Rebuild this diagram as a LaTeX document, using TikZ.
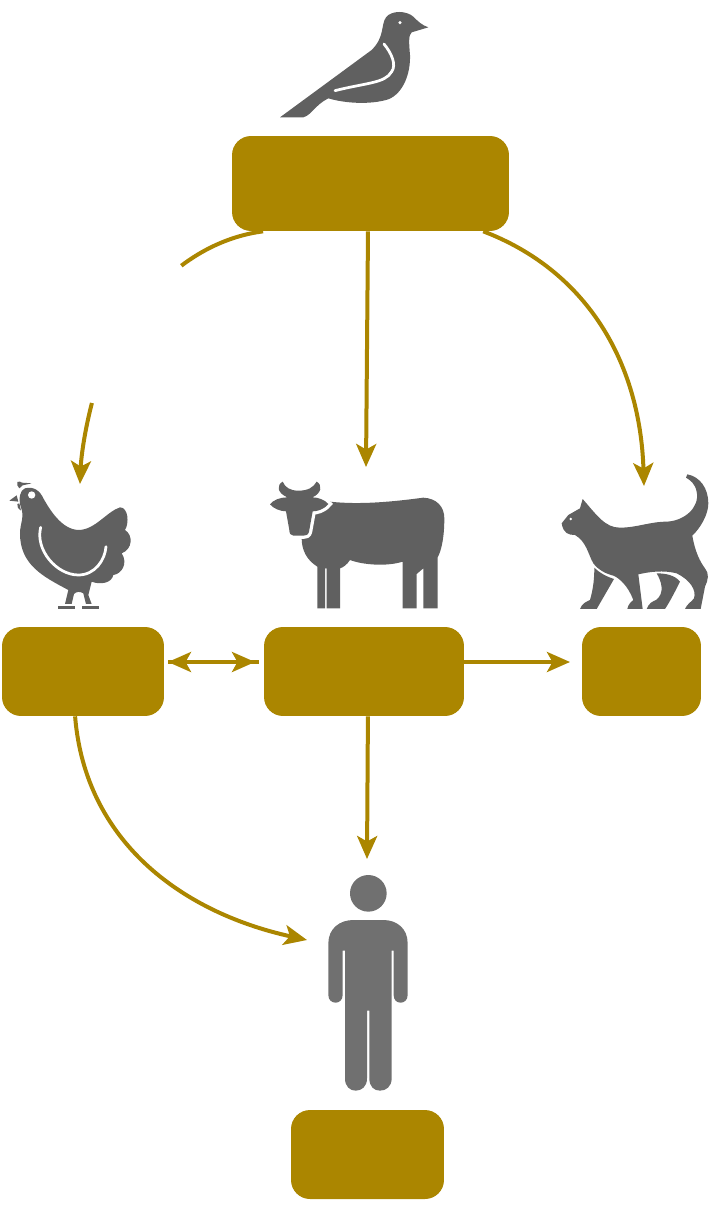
\documentclass[tikz,border=0pt]{standalone}
\usepackage{xcolor}
\usetikzlibrary{arrows.meta}
\definecolor{barngold}{RGB}{171,134,0}
\definecolor{animalgrey}{RGB}{96,96,96}
\definecolor{humangrey}{RGB}{112,112,112}
\tikzset{
	>={Stealth[length=4.6mm,width=4mm,inset=1.1mm]},
	barn/.style={
			draw=none, fill=barngold, inner sep=0pt, rounded corners=0.38cm
		},
	flowplain/.style={draw=barngold, line width=0.8mm},
	flow/.style={flowplain, ->},
	animal/.style={fill=animalgrey, draw=none},
	slit/.style={draw=white, line width=0.55mm, line cap=round},
	traced/.style={x=0.00667cm, y=-0.00667cm}
}

\begin{document}
\begin{tikzpicture}[x=0.02cm, y=-0.02cm]
	\useasboundingbox (0, 0) rectangle (710, 1206);

	% boxes
	\node [barn, minimum width=5.54cm, minimum height=1.9cm] (pigeonbox) at (370.5, 183.5) {};
	\node [barn, minimum width=3.24cm, minimum height=1.78cm] (henbox) at (83, 671.5) {};
	\node [barn, minimum width=4.0cm, minimum height=1.78cm] (cowbox) at (364, 671.5) {};
	\node [barn, minimum width=2.38cm, minimum height=1.78cm] (catbox) at (641.5, 671.5) {};
	\node [barn, minimum width=3.06cm, minimum height=1.78cm] (humanbox) at (367.5, 1154.5) {};

	% free ends
	\coordinate (breakout) at (181.3, 265.7);
	\coordinate (breakin) at (91.9, 403);
	\coordinate (henin) at (80, 484);
	\coordinate (cowin) at (366, 467);
	\coordinate (catin) at (644, 486);
	\coordinate (catside) at (570, 662);
	\coordinate (henside) at (168, 662);
	\coordinate (cowside) at (259, 662);
	\coordinate (cowtip) at (255, 662);
	\coordinate (humanin) at (367, 859);
	\coordinate (humanside) at (307, 940);

	% connectors
	\draw [flowplain] (pigeonbox.204) .. controls (228, 236) and (200.8, 251) .. (breakout);
	\draw [flow] (breakin) .. controls (85, 429.7) and (81.2, 455.5) .. (henin);
	\draw [flow] (pigeonbox.267) -- (cowin);
	\draw [flow] (pigeonbox.337) .. controls (585, 270) and (640, 360) .. (catin);
	\draw [flowplain, <-] (henside) -- (cowside);
	\draw [flow] (henside) -- (cowtip);
	\draw [flow] (cowbox.east |- catside) -- (catside);
	\draw [flow] (cowbox.275) -- (humanin);
	\draw [flow] (henbox.260) .. controls (85, 840) and (180, 912) .. (humanside);

	% pigeon
	\begin{scope}[shift={(260, 0)}, traced]
		\fill [animal] (505, 82) .. controls (485, 75) and (475, 65) .. (460, 50)
			.. controls (440, 32) and (395, 30) .. (378, 52)
			.. controls (362, 75) and (375, 110) .. (335, 150)
			-- (60, 352) -- (130, 352) .. controls (155, 345) and (165, 315) .. (205, 295)
			.. controls (255, 310) and (330, 315) .. (385, 298)
			.. controls (430, 280) and (452, 220) .. (450, 165)
			.. controls (447, 130) and (445, 105) .. (455, 97) -- cycle;
		\fill [white] (420, 68) circle (5);
		\draw [slit] (372, 132) .. controls (395, 160) and (410, 195) .. (395, 215)
			.. controls (375, 250) and (320, 248) .. (225, 272);
	\end{scope}

	% hen
	\begin{scope}[shift={(0, 470)}, traced]
		\fill [animal] (75, 55) .. controls (100, 48) and (120, 62) .. (130, 85)
			.. controls (150, 120) and (185, 178) .. (235, 180)
			.. controls (285, 180) and (320, 125) .. (360, 112)
			.. controls (385, 112) and (388, 160) .. (375, 180)
			.. controls (400, 195) and (398, 238) .. (365, 250)
			.. controls (385, 280) and (365, 312) .. (340, 315)
			.. controls (335, 340) and (300, 345) .. (275, 335)
			-- (265, 375) -- (275, 402) -- (258, 402) -- (250, 370)
			.. controls (240, 364) and (230, 364) .. (222, 372)
			-- (215, 402) -- (195, 402) -- (205, 360)
			.. controls (130, 320) and (60, 285) .. (60, 190)
			.. controls (60, 160) and (75, 140) .. (62, 110)
			.. controls (55, 85) and (60, 60) .. (75, 55);
		\fill [animal] (52, 36) .. controls (58, 32) and (62, 36) .. (66, 38) -- (95, 40) -- (68, 46) -- (58, 55) .. controls (52, 50) and (50, 42) .. (52, 36);
		\fill [animal] (28, 92) -- (50, 76) -- (55, 95) -- cycle;
		\fill [animal] (52, 102) -- (58, 100) -- (63, 122) .. controls (55, 118) and (50, 110) .. (52, 102);
		\fill [animal] (175, 408) rectangle (225, 416);
		\fill [animal] (247, 408) rectangle (297, 416);
		\fill [white] (95, 75) circle (11);
		\draw [slit] (122, 172) .. controls (105, 240) and (170, 315) .. (235, 315)
			.. controls (285, 315) and (315, 270) .. (318, 230);
	\end{scope}

	% cow
	\begin{scope}[shift={(260, 470)}, traced]
		\fill [animal] (210, 95) .. controls (300, 105) and (400, 95) .. (490, 83)
			.. controls (530, 85) and (553, 110) .. (553, 145)
			.. controls (553, 200) and (545, 240) .. (533, 262)
			-- (533, 415) -- (490, 415) -- (490, 295) -- (470, 312) -- (470, 415) -- (428, 415) -- (428, 275)
			.. controls (380, 290) and (310, 285) .. (270, 270)
			.. controls (260, 285) and (250, 292) .. (240, 295)
			-- (240, 415) -- (200, 415) -- (200, 295) -- (195, 295) -- (195, 415) -- (172, 415) -- (172, 290)
			.. controls (140, 270) and (125, 240) .. (125, 205) -- (125, 120) -- cycle;
		\path [animal, preaction={draw=white, line width=1.3mm}] (82, 82)
			.. controls (50, 68) and (50, 45) .. (68, 35)
			.. controls (75, 52) and (90, 62) .. (115, 62)
			.. controls (145, 62) and (160, 52) .. (170, 35)
			.. controls (188, 45) and (185, 70) .. (157, 82)
			.. controls (175, 82) and (195, 90) .. (205, 102)
			.. controls (190, 120) and (170, 124) .. (158, 124)
			-- (147, 185) .. controls (145, 195) and (137, 197) .. (130, 197)
			-- (100, 197) .. controls (92, 197) and (88, 190) .. (88, 180)
			-- (78, 124) .. controls (60, 124) and (40, 115) .. (30, 103)
			.. controls (40, 90) and (60, 82) .. (82, 82);
	\end{scope}

	% cat
	\begin{scope}[shift={(550, 465)}, traced]
		\fill [animal] (35, 175) -- (55, 150) -- (90, 130) -- (98, 102)
			.. controls (140, 150) and (165, 188) .. (210, 188)
			.. controls (260, 188) and (300, 170) .. (350, 170)
			.. controls (400, 168) and (450, 130) .. (440, 80)
			.. controls (435, 55) and (420, 45) .. (408, 38) -- (412, 28)
			.. controls (450, 35) and (475, 70) .. (475, 115)
			.. controls (475, 150) and (450, 190) .. (427, 212)
			.. controls (435, 260) and (450, 290) .. (465, 310)
			.. controls (478, 325) and (475, 345) .. (465, 365)
			-- (452, 432) -- (405, 432) .. controls (410, 418) and (425, 410) .. (432, 400)
			.. controls (440, 375) and (420, 345) .. (380, 325)
			.. controls (340, 315) and (300, 320) .. (265, 328)
			-- (278, 432) -- (232, 432) .. controls (235, 415) and (245, 410) .. (250, 405)
			.. controls (235, 365) and (210, 340) .. (190, 332)
			.. controls (165, 325) and (145, 315) .. (130, 295)
			.. controls (115, 270) and (110, 230) .. (75, 210)
			.. controls (55, 210) and (40, 205) .. (35, 175);
		\fill [animal] (133, 308) .. controls (150, 325) and (170, 335) .. (192, 342)
			-- (140, 432) -- (90, 432) .. controls (95, 415) and (110, 410) .. (120, 405)
			.. controls (130, 370) and (133, 340) .. (133, 308);
		\fill [animal] (320, 325) .. controls (345, 325) and (375, 330) .. (390, 350)
			.. controls (380, 370) and (360, 410) .. (345, 432) -- (290, 432)
			.. controls (295, 415) and (310, 408) .. (318, 405)
			.. controls (345, 385) and (335, 350) .. (320, 325);
		\fill [white] (62, 162) circle (4);
	\end{scope}

	% human
	\begin{scope}[shift={(310, 860)}, traced]
		\fill [humangrey] (175, 100) circle (55);
		\fill [humangrey] (55, 250) .. controls (55, 205) and (90, 180) .. (130, 180) -- (220, 180)
			.. controls (260, 180) and (293, 205) .. (293, 250) -- (293, 405)
			.. controls (293, 420) and (283, 428) .. (272, 428)
			.. controls (260, 428) and (251, 420) .. (251, 405) -- (251, 272) -- (245, 272) -- (245, 655)
			.. controls (245, 680) and (228, 692) .. (210, 692)
			.. controls (192, 692) and (178, 680) .. (178, 655) -- (178, 452) -- (171, 452) -- (171, 655)
			.. controls (171, 680) and (155, 692) .. (137, 692)
			.. controls (120, 692) and (105, 680) .. (105, 655) -- (105, 272) -- (98, 272) -- (98, 405)
			.. controls (98, 420) and (88, 428) .. (77, 428)
			.. controls (65, 428) and (55, 420) .. (55, 405) -- cycle;
	\end{scope}
\end{tikzpicture}
\end{document}
